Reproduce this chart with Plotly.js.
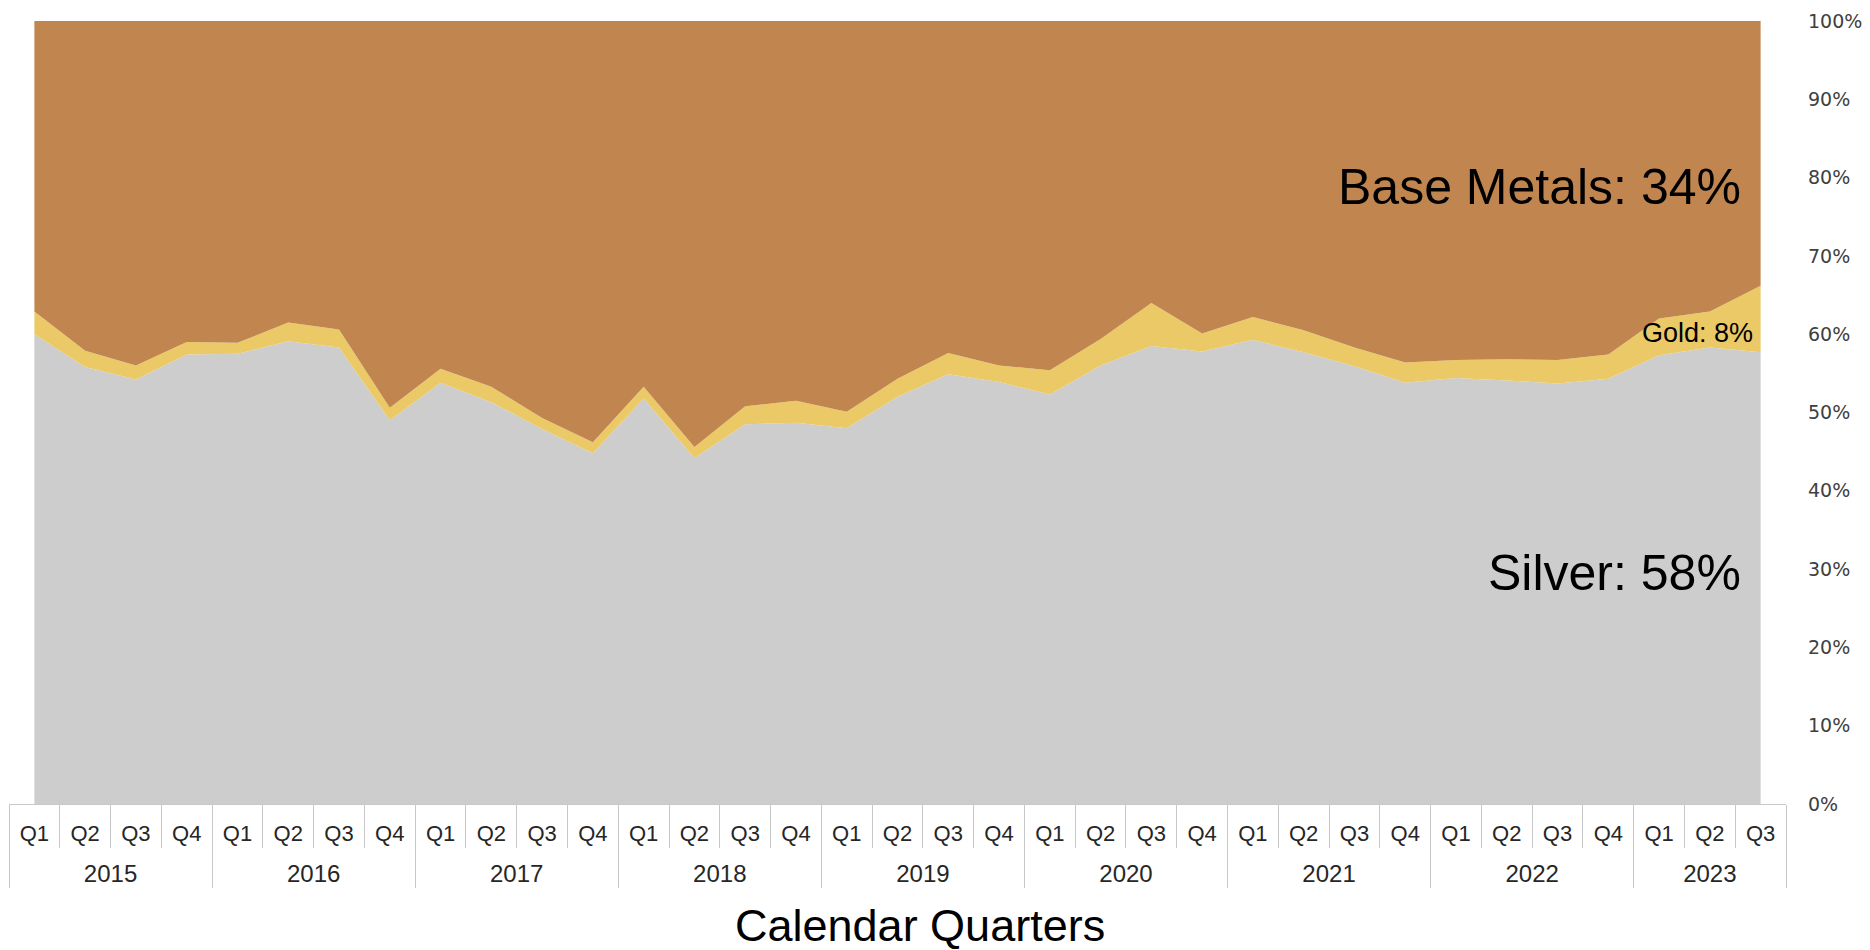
<!DOCTYPE html>
<html>
<head>
<meta charset="utf-8">
<script src="https://cdn.plot.ly/plotly-3.0.1.min.js"></script>
<style>
  html, body { margin: 0; padding: 0; background: #ffffff; }
  #chart { width: 1870px; height: 950px; }
</style>
</head>
<body>
<div id="chart"></div>
<script>
// Calendar quarters (outer level: year, inner level: quarter)
const yearLabels = [
  '2015','2015','2015','2015',
  '2016','2016','2016','2016',
  '2017','2017','2017','2017',
  '2018','2018','2018','2018',
  '2019','2019','2019','2019',
  '2020','2020','2020','2020',
  '2021','2021','2021','2021',
  '2022','2022','2022','2022',
  '2023','2023','2023'
];
const quarterLabels = [
  'Q1','Q2','Q3','Q4',
  'Q1','Q2','Q3','Q4',
  'Q1','Q2','Q3','Q4',
  'Q1','Q2','Q3','Q4',
  'Q1','Q2','Q3','Q4',
  'Q1','Q2','Q3','Q4',
  'Q1','Q2','Q3','Q4',
  'Q1','Q2','Q3','Q4',
  'Q1','Q2','Q3'
];

// Revenue share by metal (%)
const silver = [60.0, 55.8, 54.2, 57.4, 57.5, 59.1, 58.3, 49.0, 53.8, 51.3, 47.9, 44.8,
                51.8, 44.2, 48.5, 48.7, 48.0, 52.0, 54.9, 53.9, 52.3, 56.0, 58.5, 57.8,
                59.3, 57.7, 55.9, 53.8, 54.4, 54.1, 53.7, 54.3, 57.3, 58.3, 57.7];
const gold   = [2.9, 2.1, 1.8, 1.6, 1.4, 2.4, 2.3, 1.6, 1.8, 2.0, 1.4, 1.4,
                1.5, 1.4, 2.3, 2.8, 2.1, 2.3, 2.7, 2.1, 3.1, 3.4, 5.5, 2.3,
                2.9, 2.8, 2.4, 2.6, 2.3, 2.7, 3.0, 3.1, 4.7, 4.6, 8.5];
const baseMetals = [37.1, 42.1, 44.0, 41.0, 41.1, 38.5, 39.4, 49.4, 44.4, 46.7, 50.7, 53.8,
                    46.7, 54.4, 49.2, 48.5, 49.9, 45.7, 42.4, 44.0, 44.6, 40.6, 36.0, 39.9,
                    37.8, 39.5, 41.7, 43.6, 43.3, 43.2, 43.3, 42.6, 38.0, 37.1, 33.8];

const yTickVals = [0, 10, 20, 30, 40, 50, 60, 70, 80, 90, 100];
const yTickText = ['0%', '10%', '20%', '30%', '40%', '50%', '60%', '70%', '80%', '90%', '100%'];

// The quarter labels get a tiny invisible second line so that the year row
// sits lower, as in the boxed two-row category axis of the original.
const labelPad = '<br><span style="font-size:2px">\u00a0</span>';
const xCats = [
  yearLabels.map(y => '<span style="font-size:24px">' + y + '</span>'),
  quarterLabels.map(q => q + labelPad)
];

function areaTrace(name, values, color) {
  return {
    type: 'scatter',
    name: name,
    x: xCats,
    y: values,
    stackgroup: 'metals',
    mode: 'none',
    fillcolor: color,
    line: { width: 0, color: color },
    hoverinfo: 'skip'
  };
}

const data = [
  areaTrace('Silver', silver, '#CDCDCD'),
  areaTrace('Gold', gold, '#EAC966'),
  areaTrace('Base Metals', baseMetals, '#C18650')
];

const layout = {
  width: 1870,
  height: 950,
  margin: { l: 9, r: 84, t: 21, b: 146, pad: 0 },
  paper_bgcolor: '#ffffff',
  plot_bgcolor: '#ffffff',
  showlegend: false,
  xaxis: {
    type: 'multicategory',
    range: [-0.5, 34.5],
    showgrid: false,
    zeroline: false,
    showline: true,
    linecolor: '#C8C8C8',
    linewidth: 1,
    ticks: 'outside',
    tickson: 'boundaries',
    ticklen: 43,
    tickcolor: '#C8C8C8',
    tickwidth: 1,
    ticklabelstandoff: 10,
    showdividers: true,
    dividercolor: '#C8C8C8',
    dividerwidth: 1,
    tickfont: { family: 'Liberation Sans, Arial, sans-serif', size: 22, color: '#262626' }
  },
  yaxis: {
    range: [0, 100],
    side: 'right',
    tickmode: 'array',
    tickvals: yTickVals,
    ticktext: yTickText,
    showgrid: false,
    zeroline: false,
    showline: false,
    ticks: '',
    ticklabelstandoff: 21,
    tickfont: { family: 'DejaVu Sans, sans-serif', size: 19, color: '#404040' }
  },
  annotations: [
    {
      text: 'Base Metals: 34%', xref: 'paper', yref: 'y', x: 0.9758, y: 78.85,
      xanchor: 'right', yanchor: 'middle', showarrow: false,
      font: { family: 'Liberation Sans, Arial, sans-serif', size: 50, color: '#000000' }
    },
    {
      text: 'Silver: 58%', xref: 'paper', yref: 'y', x: 0.9758, y: 29.5,
      xanchor: 'right', yanchor: 'middle', showarrow: false,
      font: { family: 'Liberation Sans, Arial, sans-serif', size: 50, color: '#000000' }
    },
    {
      text: 'Gold: 8%', xref: 'paper', yref: 'y', x: 0.9826, y: 60.1,
      xanchor: 'right', yanchor: 'middle', showarrow: false,
      font: { family: 'Liberation Sans, Arial, sans-serif', size: 27, color: '#000000' }
    },
    {
      text: 'Calendar Quarters', xref: 'paper', yref: 'paper', x: 0.5127, y: -0.155,
      xanchor: 'center', yanchor: 'middle', showarrow: false,
      font: { family: 'Liberation Sans, Arial, sans-serif', size: 45, color: '#000000' }
    }
  ]
};

Plotly.newPlot('chart', data, layout, { displayModeBar: false, staticPlot: true });
</script>
</body>
</html>
